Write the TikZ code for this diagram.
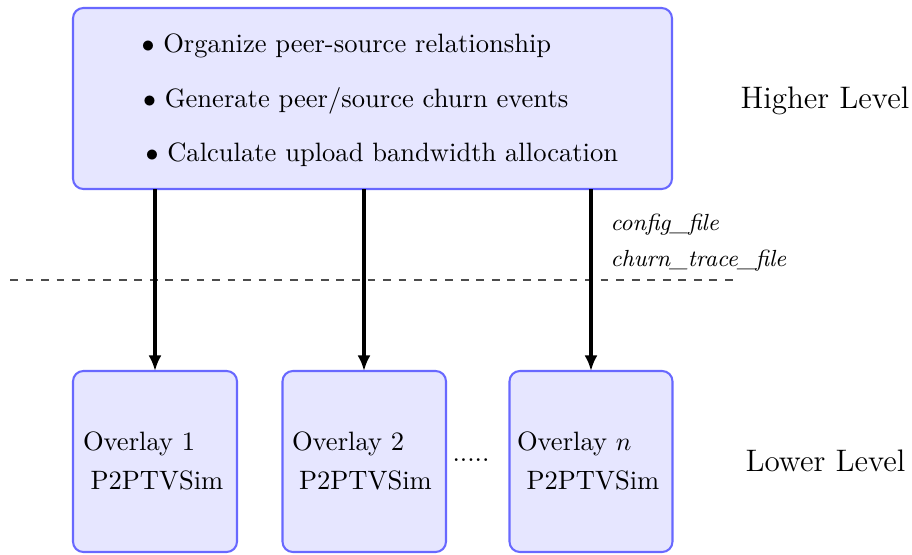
\documentclass[tikz,border=0pt]{standalone}
\usetikzlibrary{arrows.meta}
\definecolor{boxfill}{HTML}{E6E6FF}
\definecolor{boxline}{HTML}{6868FF}
\tikzset{
  modbox/.style={draw=boxline, fill=boxfill, line width=0.8pt, rounded corners=4pt},
  txt/.style={inner sep=0pt, anchor=base west, font=\fontsize{10.25}{12}\selectfont},
  big/.style={inner sep=0pt, anchor=base west, font=\large},
  filename/.style={inner sep=0pt, anchor=base west, font=\small\itshape},
  flow/.style={line width=1.3pt, -{Latex[length=6pt,width=5pt]}},
  divider/.style={dashed, line width=0.4pt, black!70},
}
\begin{document}
\begin{tikzpicture}[x=0.386pt, y=-0.386pt]
\useasboundingbox (0,0) rectangle (912,554);

% higher level: the controller
\draw[modbox] (73,8) rectangle (672,189);
\node[txt] (b1) at (141,52)  {$\bullet$ Organize peer-source relationship};
\node[txt] (b2) at (142.5,107) {$\bullet$ Generate peer/source churn events};
\node[txt] (b3) at (145,161) {$\bullet$ Calculate upload bandwidth allocation};
\node[big] (hl) at (740,108) {Higher Level};

% lower level: one simulator per overlay
\draw[modbox] (73,371) rectangle (237,552);
\draw[modbox] (282.5,371) rectangle (446,552);
\draw[modbox] (509.5,371) rectangle (672.5,552);
\coordinate (o1) at (155,371);
\coordinate (o2) at (364,371);
\coordinate (o3) at (591,371);
\coordinate (t1) at (155,189);
\coordinate (t2) at (364,189);
\coordinate (t3) at (591,189);

\node[txt] (o1a) at (82.5,450.7) {Overlay 1};
\node[txt] (o1b) at (90,489) {P2PTVSim};
\node[txt] (o2a) at (291.5,450.7) {Overlay 2};
\node[txt] (o2b) at (298.5,489) {P2PTVSim};
\node[txt] (o3a) at (516.5,450.7) {Overlay $n$};
\node[txt] (o3b) at (526,489) {P2PTVSim};
\node[txt] (dots) at (452,461.5) {.....};
\node[big] (ll) at (745,471.7) {Lower Level};

% boundary between the two levels
\coordinate (dl) at (10,280);
\coordinate (dr) at (738,280);
\draw[divider] (dl) -- (dr);

% input files handed down
\draw[flow] (t1) -- (o1);
\draw[flow] (t2) -- (o2);
\draw[flow] (t3) -- (o3);
\node[filename] (cf) at (610,230) {config\_file};
\node[filename] (ctf) at (610,266) {churn\_trace\_file};
\end{tikzpicture}
\end{document}
